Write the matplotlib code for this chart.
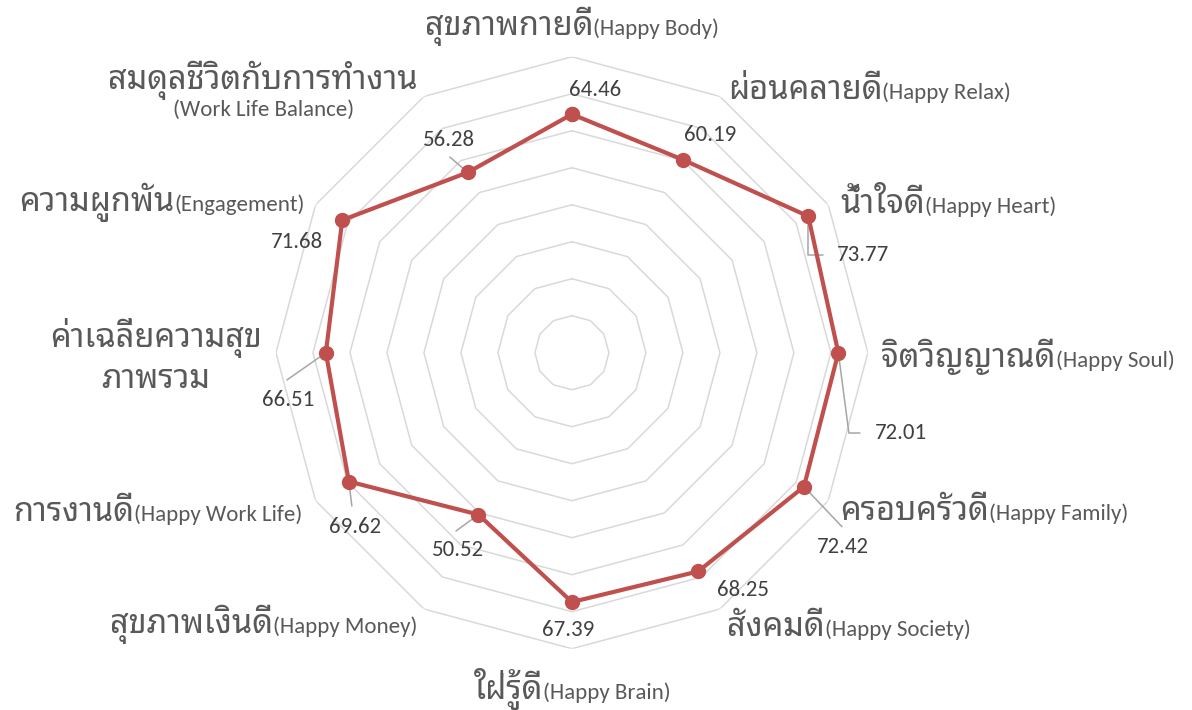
import numpy as np
import matplotlib
matplotlib.use("Agg")
import matplotlib.pyplot as plt
from matplotlib import font_manager
from matplotlib.offsetbox import TextArea, HPacker, VPacker, AnnotationBbox

# Data
thai_names = ["สุขภาพกายดี", "ผ่อนคลายดี", "น้ำใจดี", "จิตวิญญาณดี", "ครอบครัวดี",
              "สังคมดี", "ใฝ่รู้ดี", "สุขภาพเงินดี", "การงานดี",
              "ค่าเฉลี่ยความสุข\nภาพรวม", "ความผูกพัน", "สมดุลชีวิตกับการทำงาน"]
eng_names = ["(Happy Body)", "(Happy Relax)", "(Happy Heart)", "(Happy Soul)",
             "(Happy Family)", "(Happy Society)", "(Happy Brain)", "(Happy Money)",
             "(Happy Work Life)", "", "(Engagement)", "(Work Life Balance)"]
values = [64.46, 60.19, 73.77, 72.01, 72.42, 68.25, 67.39, 50.52, 69.62, 66.51, 71.68, 56.28]
rings = [10, 20, 30, 40, 50, 60, 70, 80]

# label placement (pixel offsets from outer vertex / from the point)
cat_offsets = [(0, 30, 0.5), (8, 6, 0), (12, 0, 0), (14, -4, 0), (12, -11, 0), (7, -18, 0),
               (0, -40, 0.5), (-7, -15, 1), (-13, -12, 1), (-14, -4, 1), (-11, 2, 1), (-6, 6, 1)]
val_offsets = [(23, 24), (27, 25), (55, -39), (63, -80), (39, -60), (45, -19),
               (-4, -28), (-20, -35), (6, -45), (-38, -47), (-45, -22), (-19, 32)]
leaders = {2: (14.6, -38.8, 90), 3: (21.6, -80.3, 97.5), 4: (38, -40, None),
           7: (-22.5, -16.4, None), 8: (3, -24.5, None), 9: (-39, -27.3, None),
           11: (-18, 15.4, None)}


def has_thai(path):
    try:
        from fontTools.ttLib import TTFont
        tt = TTFont(path, fontNumber=0, lazy=True)
        cmap = tt.getBestCmap() or {}
        return 0x0E2A in cmap and 0x0E14 in cmap
    except Exception:
        return False


thai_fams = {f.name for f in font_manager.fontManager.ttflist if has_thai(f.fname)}
prefer = ["Leelawadee UI", "Tahoma", "Noto Sans Thai Looped", "Loma", "Garuda", "Waree",
          "Noto Sans Thai", "Sarabun", "Umpush", "Kinnari", "Norasi"]
thai_font = next((p for p in prefer if p in thai_fams), None)
if thai_font is None and thai_fams:
    thai_font = sorted(thai_fams)[0]
all_fams = {f.name for f in font_manager.fontManager.ttflist}
latin_font = "Carlito" if "Carlito" in all_fams else "Lato"

thai_family = [thai_font, "DejaVu Sans"] if thai_font else ["DejaVu Sans"]
label_col = "#595959"
num_col = "#404040"
line_col = "#C0504D"

fig = plt.figure(figsize=(11.92, 7.10), dpi=100)
ax = fig.add_axes([0.2315, 0.0863, 0.4966, 0.8338], projection="polar")
ax.set_theta_offset(np.pi / 2)
ax.set_theta_direction(-1)
ax.set_ylim(0, 80)
ax.set_xticks([])
ax.set_yticks([])
ax.grid(False)
ax.spines["polar"].set_visible(False)
ax.patch.set_alpha(0)

n = len(values)
theta = np.arange(n) * 2 * np.pi / n
theta_c = np.append(theta, theta[0])

for r in rings:
    ax.plot(theta_c, [r] * (n + 1), color="#d9d9d9", lw=1.1, zorder=1)

vals_c = values + [values[0]]
ax.plot(theta_c, vals_c, color=line_col, lw=3, marker="o", ms=10, zorder=4)

# value labels with leader lines
for k, v in enumerate(values):
    dx, dy = val_offsets[k]
    ax.annotate(f"{v:.2f}", xy=(theta[k], v), xytext=(dx, dy), textcoords="offset pixels",
                ha="center", va="center", fontsize=16.5, color=num_col,
                family=latin_font, annotation_clip=False, zorder=5)
    if k in leaders:
        lx, ly, angb = leaders[k]
        if angb is None:
            cs = "arc3,rad=0"
        else:
            cs = f"angle,angleA=0,angleB={angb},rad=0"
        ax.annotate("", xy=(theta[k], v), xytext=(lx, ly), textcoords="offset pixels",
                    annotation_clip=False,
                    arrowprops=dict(arrowstyle="-", color="#a6a6a6", lw=1.1,
                                    shrinkA=0, shrinkB=0, connectionstyle=cs),
                    zorder=3)

# category labels
thai_props = dict(fontsize=23.5, color=label_col, family=thai_family, multialignment="center")
eng_props = dict(fontsize=16.5, color=label_col, family=latin_font)
for k in range(n):
    dx, dy, bx = cat_offsets[k]
    t_area = TextArea(thai_names[k], textprops=thai_props)
    if eng_names[k] == "":
        box = t_area
    elif k == 11:
        box = VPacker(children=[t_area, TextArea(eng_names[k], textprops=eng_props)],
                      align="center", pad=0, sep=0)
    else:
        box = HPacker(children=[t_area, TextArea(eng_names[k], textprops=eng_props)],
                      align="baseline", pad=0, sep=0)
    ab = AnnotationBbox(box, (theta[k], 80), xybox=(dx, dy), xycoords="data",
                        boxcoords="offset pixels", box_alignment=(bx, 0.5),
                        frameon=False, pad=0, annotation_clip=False)
    ax.add_artist(ab)

fig.savefig("out.png", dpi=100)
